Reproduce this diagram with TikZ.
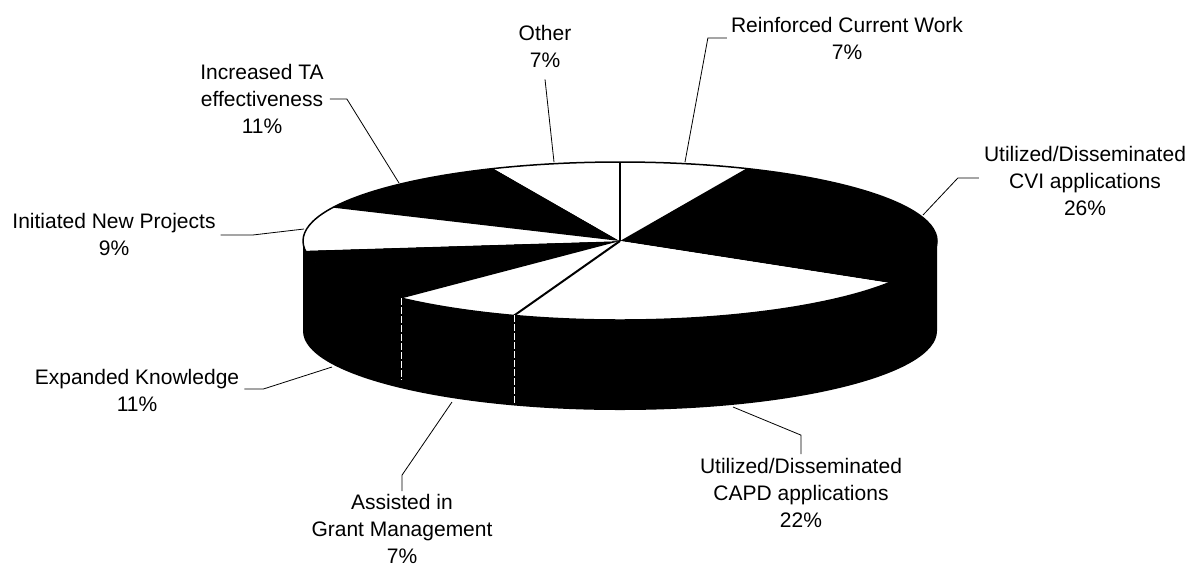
\documentclass[tikz,border=0pt]{standalone}
\usepackage{fontspec}
\setmainfont{Liberation Sans}
\newcommand\pieslice[3]{\fill[#3] (C) -- ++(#1:317pt and 79pt) arc[start angle=#1,end angle=#2,x radius=317pt,y radius=79pt] -- cycle;}
\begin{document}
\begin{tikzpicture}[x=1pt,y=1pt,
  lbl/.style={font=\fontsize{21}{27}\selectfont, align=center, inner sep=0pt},
  leader/.style={draw=black, line width=0.8pt},
  sep/.style={draw=black, line width=2pt},
  sidesep/.style={draw=white, line width=0.7pt, dash pattern=on 7pt off 2pt}]
\useasboundingbox (0,0) rectangle (1190,-566);
\coordinate (C) at (620,-241);
% side of the cylinder
\fill[black] (C) ++(180:317pt and 79pt) arc[start angle=180,end angle=360,x radius=317pt,y radius=79pt] -- ++(0,-90) arc[start angle=360,end angle=180,x radius=317pt,y radius=79pt] -- cycle;
% top slices
\pieslice{90}{66.5}{white}
\pieslice{66.5}{-32}{black}
\pieslice{-32}{-109.5}{white}
\pieslice{-109.5}{-133.5}{white}
\pieslice{-133.5}{-173}{black}
\pieslice{-173}{-205}{white}
\pieslice{-205}{-246.5}{black}
\pieslice{-246.5}{-270}{white}
% outline of top face
\draw[line width=1.5pt] (C) ellipse[x radius=317pt, y radius=79pt];
% separators between white slices
\path (C) ++(90:317pt and 79pt) coordinate (r90);
\path (C) ++(-109.5:317pt and 79pt) coordinate (r109);
\path (C) ++(-133.5:317pt and 79pt) coordinate (r133);
\draw[sep] (C) -- (r90);
\draw[sep] (C) -- (r109);
% white dashed lines on the side
\draw[sidesep] (r109) -- ++(0,-88);
\draw[sidesep] (r133) -- ++(0,-82);
% labels
\node[lbl] (other) at (545,-46) {Other\\7\%};
\node[lbl] (rcw) at (847,-38) {Reinforced Current Work\\7\%};
\node[lbl] (cvi) at (1085,-181) {Utilized/Disseminated\\CVI applications\\26\%};
\node[lbl] (ta) at (262,-99) {Increased TA\\effectiveness\\11\%};
\node[lbl] (ini) at (114,-234) {Initiated New Projects\\9\%};
\node[lbl] (exp) at (137,-390) {Expanded Knowledge\\11\%};
\node[lbl] (grant) at (402,-529) {Assisted in\\Grant Management\\7\%};
\node[lbl] (capd) at (801,-493) {Utilized/Disseminated\\CAPD applications\\22\%};
% leader end points on the pie
\coordinate (pO) at (554,-162);
\coordinate (pR) at (685,-162);
\coordinate (pCVI) at (923,-215);
\coordinate (pTA) at (399,-183);
\coordinate (pI) at (304,-229);
\coordinate (pE) at (332,-367);
\coordinate (pG) at (452,-402);
\coordinate (pC) at (733,-407);
% leaders
\draw[leader] ([yshift=-12pt]other.south) -- (pO);
\draw[leader] ([xshift=-4pt]rcw.west) -- ++(-19,0) -- (pR);
\draw[leader] ([xshift=-5pt,yshift=3pt]cvi.west) -- ++(-21,0) -- (pCVI);
\draw[leader] ([xshift=6pt]ta.east) -- ++(17,0) -- (pTA);
\draw[leader] ([xshift=5pt,yshift=-1pt]ini.east) -- ++(32,0) -- (pI);
\draw[leader] ([xshift=5pt,yshift=1pt]exp.east) -- ++(19,0) -- (pE);
\draw[leader] ([yshift=3pt]grant.north) -- ++(0,16) -- (pG);
\draw[leader] ([yshift=4pt]capd.north) -- ++(0,19) -- (pC);
\end{tikzpicture}
\end{document}
